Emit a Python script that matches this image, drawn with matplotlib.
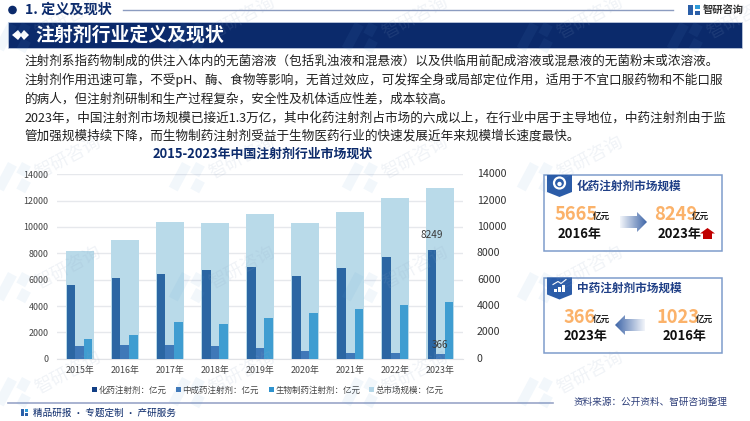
import numpy as np
import matplotlib
matplotlib.use("Agg")
import matplotlib.pyplot as plt
from matplotlib.patches import Rectangle, Polygon, Circle, FancyBboxPatch, PathPatch
from matplotlib.colors import LinearSegmentedColormap

plt.rcParams['font.family'] = ['Noto Sans CJK SC', 'DejaVu Sans']

years = ['2015年', '2016年', '2017年', '2018年', '2019年', '2020年', '2021年', '2022年', '2023年']
chem = [5600, 6100, 6450, 6730, 6950, 6250, 6870, 7720, 8249]
tcm = [1000, 1050, 1060, 930, 850, 620, 450, 400, 366]
bio = [1520, 1830, 2820, 2600, 3080, 3450, 3800, 4060, 4320]
total = [8150, 9000, 10350, 10300, 10950, 10300, 11150, 12200, 12950]
series_names = ['化药注射剂：亿元', '中成药注射剂：亿元', '生物制药注射剂：亿元', '总市场规模：亿元']
yticks = [0, 2000, 4000, 6000, 8000, 10000, 12000, 14000]
body_lines = [
    '注射剂系指药物制成的供注入体内的无菌溶液（包括乳浊液和混悬液）以及供临用前配成溶液或混悬液的无菌粉末或浓溶液。',
    '注射剂作用迅速可靠，不受pH、酶、食物等影响，无首过效应，可发挥全身或局部定位作用，适用于不宜口服药物和不能口服',
    '的病人，但注射剂研制和生产过程复杂，安全性及机体适应性差，成本较高。',
    '2023年，中国注射剂市场规模已接近1.3万亿，其中化药注射剂占市场的六成以上，在行业中居于主导地位，中药注射剂由于监',
    '管加强规模持续下降，而生物制药注射剂受益于生物医药行业的快速发展近年来规模增长速度最快。',
]

NAVY = '#0B2A6B'
C_CHEM, C_TCM, C_BIO, C_TOTAL = '#2B66A3', '#3F78B8', '#3F9DD1', '#B9DAE9'
W, H = 750, 421

fig = plt.figure(figsize=(7.5, 4.21), dpi=100, facecolor='white')
bg = fig.add_axes([0, 0, 1, 1], zorder=0)
bg.set_xlim(0, W); bg.set_ylim(H, 0); bg.axis('off')

# chart
ax = fig.add_axes([57 / W, 1 - 358.7 / H, 406 / W, 184.4 / H], zorder=1)
ax.patch.set_alpha(0)
x = np.arange(len(years))
bw = 0.19
ax.bar(x, total, 0.62, color=C_TOTAL, zorder=2)
ax.bar(x - bw, chem, bw, color=C_CHEM, zorder=3)
ax.bar(x, tcm, bw, color=C_TCM, zorder=3)
ax.bar(x + bw, bio, bw, color=C_BIO, zorder=3)
ax.set_xlim(-0.5, len(years) - 0.5)
ax.set_ylim(0, 14000)
ax.set_yticks(yticks)
ax.set_xticks(x, years)
ax.grid(axis='y', color='#E6E8EC', lw=1, zorder=1)
ax.set_axisbelow(True)
for s in ax.spines.values():
    s.set_visible(False)
ax.spines['bottom'].set_visible(True)
ax.spines['bottom'].set_color('#E0E2E6')
ax.tick_params(length=0, labelsize=6.4, labelcolor='#444444')
ax.tick_params(axis='x', pad=5.5)
ax.tick_params(axis='y', pad=6)
for v in yticks:
    ax.annotate(str(v), (1, v), xycoords=('axes fraction', 'data'), xytext=(10, 0),
                textcoords='offset points', va='center', ha='left', fontsize=7.6, color='#333333')
ax.annotate(str(chem[-1]), (x[-1] - bw, chem[-1]), xytext=(0, 7), textcoords='offset points',
            ha='center', va='bottom', fontsize=7.2, color='#3A3A3A', fontweight='medium', zorder=5)
ax.annotate(str(tcm[-1]), (x[-1], tcm[-1]), xytext=(0, 3), textcoords='offset points',
            ha='center', va='bottom', fontsize=7.2, color='#3A3A3A', fontweight='medium', zorder=5)

# legend
for lx, name, c in zip([92, 176, 269, 369], series_names, ['#123F85', C_TCM, '#2F93CE', C_TOTAL]):
    bg.add_patch(Rectangle((lx, 387), 4.5, 4.5, color=c, lw=0))
    bg.text(lx + 6.5, 390, name, fontsize=6.1, color='#444444', va='center')

# header
bg.add_patch(Circle((12.5, 10), 3.6, color=NAVY))
bg.text(25, 10, '1. 定义及现状', fontsize=10.2, fontweight='bold', color=NAVY, va='center')
bg.plot([123, 673], [9.5, 9.5], color='#8C9CC0', lw=1)
bg.add_patch(Rectangle((8, 22), 734, 26, facecolor=NAVY, edgecolor='#C5CFE2', lw=0.5))
bg.add_patch(Polygon([(12, 35), (18, 30), (22, 35), (18, 40)], color='white', lw=0))
bg.add_patch(Polygon([(20, 35), (24, 30), (29, 35), (24, 40)], color='white', lw=0))
bg.text(35, 35, '注射剂行业定义及现状', fontsize=13.6, fontweight='bold', color='white', va='center')
# logo top right
bg.add_patch(Rectangle((688, 5), 5, 10, color='#2B5FA8', lw=0))
bg.add_patch(Rectangle((695, 5), 5, 4, color='#2F9BD8', lw=0))
bg.add_patch(Rectangle((695, 11), 5, 4, color='#2B5FA8', lw=0))
bg.text(703, 9.5, '智研咨询', fontsize=7.4, fontweight='bold', color='#333333', va='center')

# body
for ty, line in zip([61, 80, 99, 118, 136], body_lines):
    bg.text(24.5, ty, line, fontsize=9.05, color='#1F1F1F', va='center')
bg.text(263, 153.5, '2015-2023年中国注射剂行业市场现状', fontsize=9.3, fontweight='bold', color=NAVY,
        va='center', ha='center')

# footer
bg.plot([8, 553], [402.5, 402.5], color='#9AA6C8', lw=1.2)
bg.add_patch(Rectangle((21, 409), 3, 7, color='#2B5FA8', lw=0))
bg.add_patch(Rectangle((25, 409), 3, 3, color='#2F9BD8', lw=0))
bg.add_patch(Rectangle((25, 413), 3, 3, color='#2B5FA8', lw=0))
bg.text(33, 413, '精品研报 · 专题定制 · 产研服务', fontsize=6.9, color=NAVY, va='center')
bg.text(574, 402.5, '资料来源：公开资料、智研咨询整理', fontsize=6.9, color='#2E3F7A', va='center')


def gradient_arrow(x0, x1, yc, reverse=False):
    xs = np.linspace(0, 1, 64)[None, :]
    cmap = LinearSegmentedColormap.from_list('a', ['#F2F5FA', '#3F66A8'])
    im = bg.imshow(xs[:, ::-1] if reverse else xs, extent=[x0, x1, yc + 11, yc - 11], cmap=cmap,
                   aspect='auto', zorder=2)
    if reverse:
        pts = [(x1, yc - 6), (x0 + 10, yc - 6), (x0 + 10, yc - 10), (x0, yc), (x0 + 10, yc + 10),
               (x0 + 10, yc + 6), (x1, yc + 6)]
    else:
        pts = [(x0, yc - 6), (x1 - 10, yc - 6), (x1 - 10, yc - 10), (x1, yc), (x1 - 10, yc + 10),
               (x1 - 10, yc + 6), (x0, yc + 6)]
    p = Polygon(pts, transform=bg.transData, fc='none', ec='none')
    bg.add_patch(p)
    im.set_clip_path(p)


def card(top, bottom, title, icon_kind):
    bg.add_patch(Rectangle((543.5, top), 178.5, bottom - top, fc='white', ec='#7F9CCB', lw=1.1, zorder=1))
    bg.add_patch(Polygon([(547, top), (572, top), (572, top + 17), (559.5, top + 22), (547, top + 17)],
                         color='#2B5CA8', lw=0, zorder=2))
    bg.text(577, top + 11, title, fontsize=8.4, fontweight='bold', color='#1F3F86', va='center', zorder=3)
    if icon_kind == 0:
        bg.add_patch(Circle((559.5, top + 8), 5.5, fc='none', ec='white', lw=1.6, zorder=3))
        bg.add_patch(Circle((559.5, top + 9), 2.2, fc='white', lw=0, zorder=3))
    else:
        for i, hh in enumerate([3, 5, 7]):
            bg.add_patch(Rectangle((554 + i * 4, top + 14 - hh), 2.6, hh, color='white', lw=0, zorder=3))
        bg.plot([553, 558, 561, 566], [top + 7, top + 4, top + 6, top + 2], color='white', lw=0.8, zorder=3)


ORANGE = '#FBB26A'
card(175, 250.5, '化药注射剂市场规模', 0)
bg.text(555, 215, '5665', fontsize=13.2, fontweight='bold', color=ORANGE, va='center', zorder=3)
bg.text(593, 216, '亿元', fontsize=6.2, fontweight='bold', color='#222222', va='center', zorder=3)
bg.text(558, 234, '2016年', fontsize=9.4, fontweight='bold', color='#111111', va='center', zorder=3)
bg.text(654, 215, '8249', fontsize=13.2, fontweight='bold', color=ORANGE, va='center', zorder=3)
bg.text(692, 216, '亿元', fontsize=6.2, fontweight='bold', color='#222222', va='center', zorder=3)
bg.text(658, 234, '2023年', fontsize=9.4, fontweight='bold', color='#111111', va='center', zorder=3)
gradient_arrow(620, 647, 222)
bg.add_patch(Polygon([(703, 239), (703, 233.5), (700, 233.5), (707.5, 228), (715, 233.5), (712, 233.5), (712, 239)],
                     color='#C00000', lw=0, zorder=3))

card(277.5, 353, '中药注射剂市场规模', 1)
bg.text(563, 317.5, '366', fontsize=13.2, fontweight='bold', color=ORANGE, va='center', zorder=3)
bg.text(593, 319, '亿元', fontsize=6.2, fontweight='bold', color='#222222', va='center', zorder=3)
bg.text(564, 336, '2023年', fontsize=9.4, fontweight='bold', color='#111111', va='center', zorder=3)
bg.text(657, 317.5, '1023', fontsize=13.2, fontweight='bold', color=ORANGE, va='center', zorder=3)
bg.text(696, 319, '亿元', fontsize=6.2, fontweight='bold', color='#222222', va='center', zorder=3)
bg.text(663, 336, '2016年', fontsize=9.4, fontweight='bold', color='#111111', va='center', zorder=3)
gradient_arrow(615, 645, 325, reverse=True)
bg.set_xlim(0, W); bg.set_ylim(H, 0)

# watermark
wm = fig.add_axes([0, 0, 1, 1], zorder=3)
wm.set_xlim(0, W); wm.set_ylim(H, 0); wm.axis('off'); wm.patch.set_alpha(0)
for wx, wy in [(68, 170), (242, 170), (415, 170), (590, 170),
               (68, 30), (242, 30), (415, 30), (590, 30), (740, 30),
               (68, 280), (242, 280), (415, 280), (590, 280),
               (68, 385), (242, 385), (415, 385), (590, 385)]:
    wm.text(wx, wy - 12, '智研咨询', fontsize=13, color='#8FA6C4', alpha=0.13, rotation=28,
            ha='center', va='center')
    wm.add_patch(Rectangle((wx - 60, wy - 8), 10, 28, angle=28, color='#5B9BD5', alpha=0.08, lw=0))
    wm.add_patch(Rectangle((wx - 46, wy - 8), 10, 12, angle=28, color='#5B9BD5', alpha=0.08, lw=0))
    wm.add_patch(Rectangle((wx - 46, wy + 8), 10, 12, angle=28, color='#5B9BD5', alpha=0.08, lw=0))

fig.savefig('out.png', dpi=100)
